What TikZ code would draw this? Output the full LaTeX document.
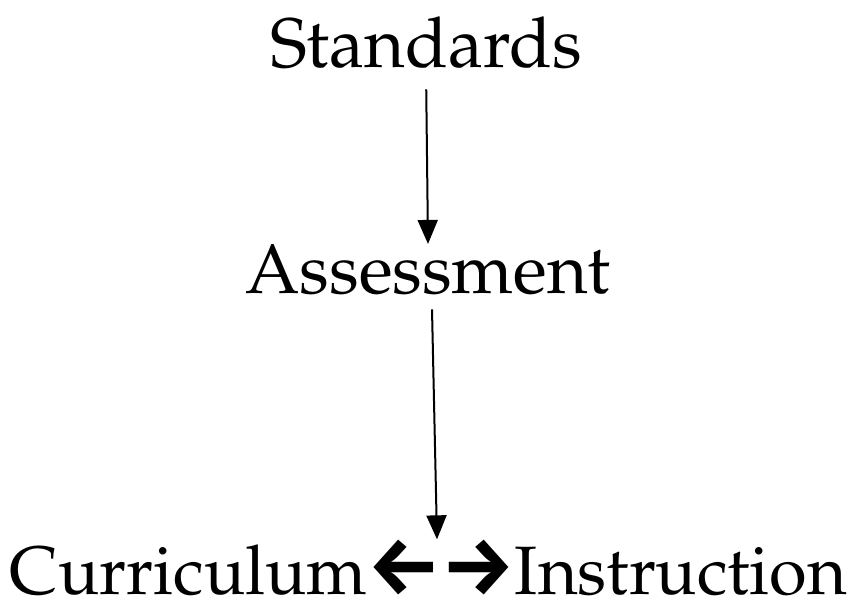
\documentclass[tikz,border=0pt]{standalone}
\usepackage{fontspec}
\newfontfamily\arrowfont{Fira Sans}
\usetikzlibrary{arrows.meta,calc}
\begin{document}
\begin{tikzpicture}[x=1pt,y=1pt,
  lbl/.style={inner sep=0pt,anchor=base,font=\fontencoding{OT1}\fontfamily{ppl}\fontsize{70}{84}\selectfont},
  conn/.style={line width=2pt,-{Triangle[length=24pt,width=20pt]}}]
\useasboundingbox (0,0) rectangle (853,598);
\node[lbl] (std) at (426,530) {Standards};
\node[lbl] (ass) at (428,305) {Assessment};
\node[lbl,font=\fontencoding{OT1}\fontfamily{ppl}\fontsize{68.5}{84}\selectfont] (bot) at (428.5,4) {Curriculum{\arrowfont\bfseries\fontsize{82}{90}\selectfont ←→}Instruction};
\draw[conn,shorten <=20pt] (std.south) -- (ass.north);
\draw[conn] ([xshift=4pt,yshift=-15pt]ass.south) -- ([xshift=8.5pt]bot.north);
\end{tikzpicture}
\end{document}
